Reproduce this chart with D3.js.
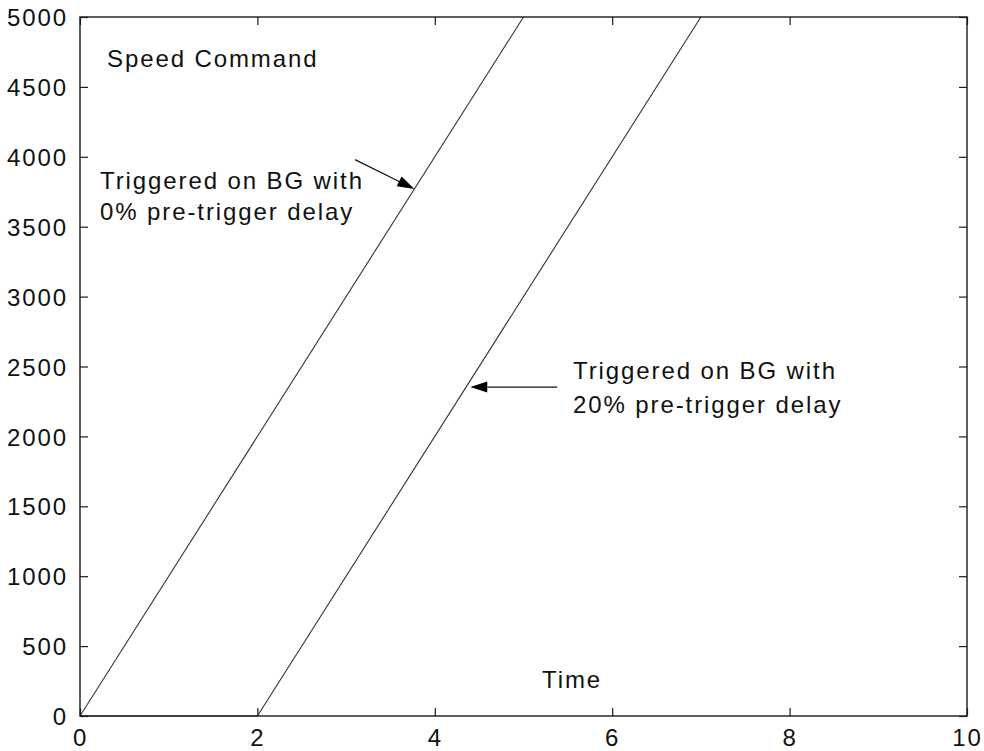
<!DOCTYPE html>
<html>
<head>
<meta charset="utf-8">
<script src="https://cdn.jsdelivr.net/npm/d3@7"></script>
<style>
  html, body { margin: 0; padding: 0; background: #fff; }
  svg text { font-family: "Liberation Sans", Arial, sans-serif; font-size: 24px; letter-spacing: 1.9px; fill: #111; }
</style>
</head>
<body>
<svg id="chart" width="984" height="751"></svg>
<script>
// Speed command traces (time, speed)
const zeroDelayTime = [0, 5];
const zeroDelaySpeed = [0, 5000];
const preDelayTime = [0, 2, 7];
const preDelaySpeed = [0, 0, 5000];

// Axis ticks
const xTicks = [0, 2, 4, 6, 8, 10];
const yTicks = [0, 500, 1000, 1500, 2000, 2500, 3000, 3500, 4000, 4500, 5000];

// Annotation arrows: [tailTime, tailSpeed, tipTime, tipSpeed]
const arrowZero = [3.10, 3980, 3.77, 3770];
const arrowPre = [5.38, 2353, 4.40, 2353];

const svg = d3.select("#chart");
const plotLeft = 80, plotRight = 967, plotTop = 17, plotBottom = 716;

const x = d3.scaleLinear().domain([0, 10]).range([plotLeft, plotRight]);
const y = d3.scaleLinear().domain([0, 5000]).range([plotBottom, plotTop]);

const axisColor = "#1a1a1a";
const tickLen = 8;

// Data lines
const line = d3.line().x(d => x(d[0])).y(d => y(d[1]));
const traces = [
  d3.zip(zeroDelayTime, zeroDelaySpeed),
  d3.zip(preDelayTime, preDelaySpeed)
];
svg.append("g").selectAll("path").data(traces).join("path")
  .attr("d", line)
  .attr("fill", "none")
  .attr("stroke", "#333")
  .attr("stroke-width", 1.1);

// Frame
svg.append("rect")
  .attr("x", plotLeft).attr("y", plotTop)
  .attr("width", plotRight - plotLeft).attr("height", plotBottom - plotTop)
  .attr("fill", "none").attr("stroke", axisColor).attr("stroke-width", 1.4);

// Inward ticks on all four sides
const fmt = d3.format("d");
const bottomAxis = d3.axisBottom(x).tickValues(xTicks).tickFormat(fmt).tickSizeInner(-tickLen).tickSizeOuter(0);
const topAxis = d3.axisTop(x).tickValues(xTicks).tickSizeInner(-tickLen).tickSizeOuter(0).tickFormat("");
const leftAxis = d3.axisLeft(y).tickValues(yTicks).tickFormat(fmt).tickSizeInner(-tickLen).tickSizeOuter(0).tickPadding(12);
const rightAxis = d3.axisRight(y).tickValues(yTicks).tickSizeInner(-tickLen).tickSizeOuter(0).tickFormat("");

function styleAxis(g) {
  g.select(".domain").remove();
  g.selectAll(".tick line").attr("stroke", axisColor).attr("stroke-width", 1.2);
  g.selectAll(".tick text").attr("fill", "#111").attr("font-size", null).attr("font-family", null);
}

svg.append("g").attr("transform", `translate(0,${plotBottom})`).call(bottomAxis).call(styleAxis)
  .selectAll(".tick text").attr("dy", null).attr("y", 30);
svg.append("g").attr("transform", `translate(0,${plotTop})`).call(topAxis).call(styleAxis);
svg.append("g").attr("transform", `translate(${plotLeft},0)`).call(leftAxis).call(styleAxis)
  .selectAll(".tick text").attr("dy", "0.36em");
svg.append("g").attr("transform", `translate(${plotRight},0)`).call(rightAxis).call(styleAxis);

// Labels
svg.append("text").attr("x", 107).attr("y", 67).text("Speed Command");
svg.append("text").attr("x", 542).attr("y", 688).text("Time");

const note1 = svg.append("text");
note1.append("tspan").attr("x", 100).attr("y", 189).text("Triggered on BG with");
note1.append("tspan").attr("x", 100).attr("y", 220).text("0% pre-trigger delay");

const note2 = svg.append("text");
note2.append("tspan").attr("x", 573).attr("y", 379).text("Triggered on BG with");
note2.append("tspan").attr("x", 573).attr("y", 413).text("20% pre-trigger delay");

// Arrows pointing at the traces
function arrow(a) {
  const x0 = x(a[0]), y0 = y(a[1]), x1 = x(a[2]), y1 = y(a[3]);
  const ang = Math.atan2(y1 - y0, x1 - x0);
  const hl = 17, hw = 5.5;
  const bx = x1 - hl * Math.cos(ang), by = y1 - hl * Math.sin(ang);
  svg.append("line")
    .attr("x1", x0).attr("y1", y0).attr("x2", bx).attr("y2", by)
    .attr("stroke", "#111").attr("stroke-width", 1.2);
  const px = -Math.sin(ang) * hw, py = Math.cos(ang) * hw;
  svg.append("path")
    .attr("d", `M${x1},${y1}L${bx + px},${by + py}L${bx - px},${by - py}Z`)
    .attr("fill", "#000");
}
arrow(arrowZero);
arrow(arrowPre);
</script>
</body>
</html>
